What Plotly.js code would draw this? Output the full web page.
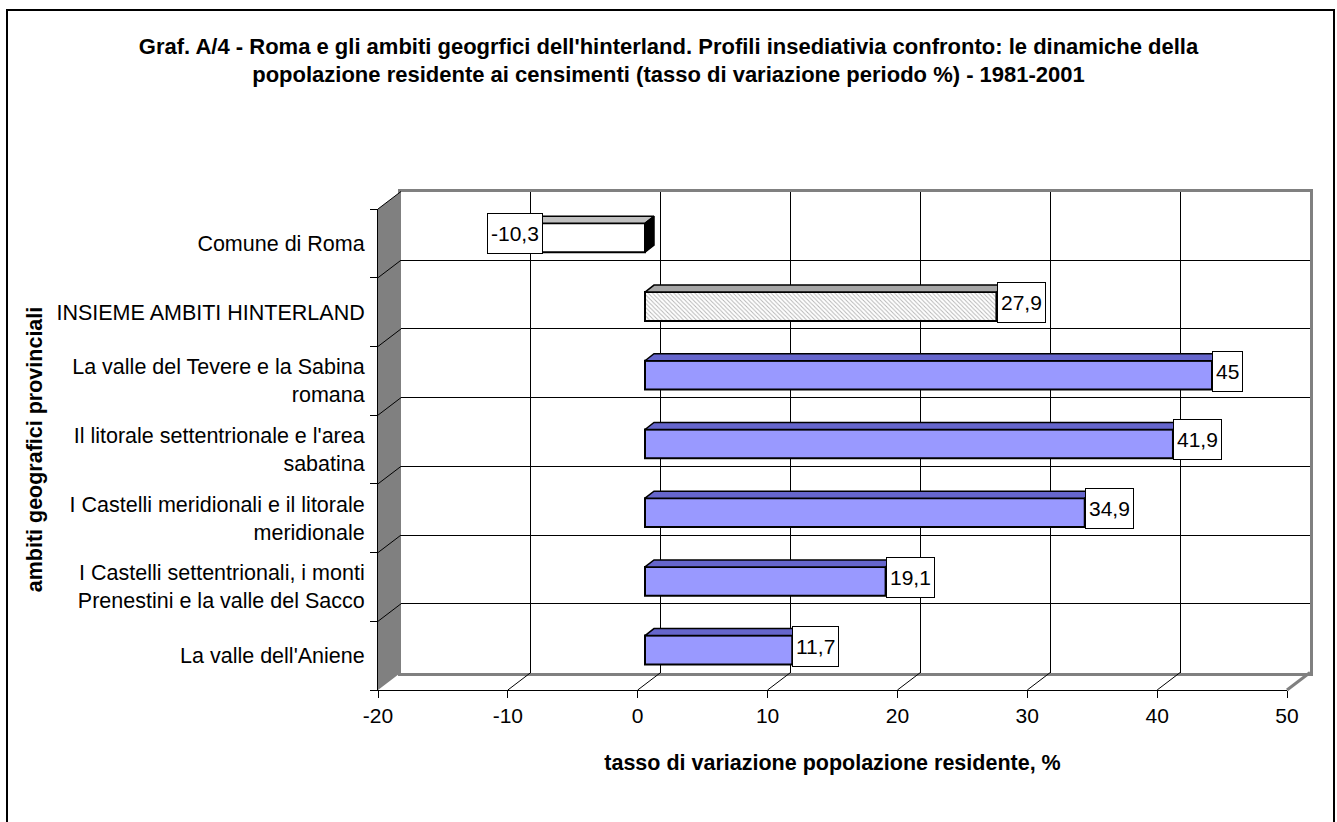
<!DOCTYPE html>
<html>
<head>
<meta charset="utf-8">
<script src="https://cdn.plot.ly/plotly-3.0.1.min.js"></script>
<style>
  html, body { margin: 0; padding: 0; background: #fff; }
  #chart { width: 1337px; height: 822px; }
</style>
</head>
<body>
<div id="chart"></div>
<script>
// Categories, top to bottom
const categories = [
  "Comune di Roma",
  "INSIEME AMBITI HINTERLAND",
  "La valle del Tevere e la Sabina<br>romana",
  "Il litorale settentrionale e l'area<br>sabatina",
  "I Castelli meridionali e il litorale<br>meridionale",
  "I Castelli settentrionali, i monti<br>Prenestini e la valle del Sacco",
  "La valle dell'Aniene"
];
// Tasso di variazione della popolazione residente 1981-2001, %
const values = [-10.3, 27.9, 45, 41.9, 34.9, 19.1, 11.7];
const xTicks = [-20, -10, 0, 10, 20, 30, 40, 50];
const xTickText = ["-20", "-10", "0", "10", "20", "30", "40", "50"];

const titleText = "Graf. A/4 - Roma e gli ambiti geogrfici dell'hinterland. Profili insediativia confronto: le dinamiche della<br>popolazione residente ai censimenti (tasso di variazione periodo %) - 1981-2001";
const xTitle = "tasso di variazione popolazione residente, %";
const yTitle = "ambiti geografici provinciali";

// ---- page geometry (pixels) ----
const W = 1337, H = 822;
const FONT = "Arial, 'Liberation Sans', sans-serif";
const front = { x0: 378, x1: 1287, y0: 209, y1: 690 };   // front plane of the 3D box
const depth = { dx: 23, dy: 17.5 };                       // offset of the back wall
const barPlane = { zero: 645, unit: 12.6, dy: 5.6 };      // plane of the bar front faces
const barTop = { dx: 9, dy: 7 };                          // depth of each bar
const xMin = xTicks[0], xMax = xTicks[xTicks.length - 1];
const nCat = categories.length;
const HATCHED = 1;                                        // the aggregate hinterland bar

const px = v => v / W;
const py = v => 1 - v / H;
const catIdx = categories.map((_, i) => i);
const frontX = v => front.x0 + (v - xMin) * (front.x1 - front.x0) / (xMax - xMin);
const catH = (front.y1 - front.y0) / nCat;
const boundaries = Array.from({ length: nCat + 1 }, (_, k) => k - 0.5);

// bar styling by role
const faceColor = i => i === 0 ? "#ffffff" : (i === HATCHED ? "#ececec" : "#9999ff");
const topColor = i => i === 0 ? "#c0c0c0" : (i === HATCHED ? "#a6a6a6" : "#6666cc");
const sideColor = i => i === 0 ? "#000000" : (i === HATCHED ? "#808080" : "#333399");

const barWidth = 0.42;
const dxu = barTop.dx / barPlane.unit;
const dyu = barTop.dy / catH;

const traces = [];
// plain front faces
traces.push({
  type: "bar", orientation: "h",
  x: values, y: catIdx, width: barWidth,
  xaxis: "x3", yaxis: "y3",
  marker: { color: catIdx.map(faceColor), line: { color: "#000", width: 2 } },
  hoverinfo: "skip", showlegend: false
});
// hatched face of the aggregate bar
traces.push({
  type: "bar", orientation: "h",
  x: [values[HATCHED]], y: [HATCHED], width: barWidth,
  xaxis: "x3", yaxis: "y3",
  marker: {
    color: "#ffffff", line: { color: "#000", width: 2 },
    pattern: { shape: "\\", fgcolor: "#b4b4b4", bgcolor: "#ffffff", size: 3, solidity: 0.3, fillmode: "replace" }
  },
  hoverinfo: "skip", showlegend: false
});

// top and end faces of each bar
values.forEach((v, i) => {
  const a = Math.min(0, v), b = Math.max(0, v);
  const top = i - barWidth / 2, bot = i + barWidth / 2;
  traces.push({
    type: "scatter", mode: "lines", xaxis: "x3", yaxis: "y3",
    x: [a, b, b + dxu, a + dxu, a],
    y: [top, top, top - dyu, top - dyu, top],
    fill: "toself", fillcolor: topColor(i),
    line: { color: "#000", width: 1.5 }, hoverinfo: "skip", showlegend: false
  });
  traces.push({
    type: "scatter", mode: "lines", xaxis: "x3", yaxis: "y3",
    x: [b, b + dxu, b + dxu, b, b],
    y: [top, top - dyu, bot - dyu, bot, top],
    fill: "toself", fillcolor: sideColor(i),
    line: { color: "#000", width: 1.5 }, hoverinfo: "skip", showlegend: false
  });
});

// invisible anchors so the front and back subplots are drawn
traces.push({ type: "scatter", x: [xMin], y: [0], xaxis: "x2", yaxis: "y2", mode: "markers", marker: { opacity: 0 }, hoverinfo: "skip", showlegend: false });
traces.push({ type: "scatter", x: [xMin], y: [0], xaxis: "x", yaxis: "y", mode: "markers", marker: { opacity: 0 }, hoverinfo: "skip", showlegend: false });

const fmt = v => String(v).replace(".", ",");
const annotations = values.map((v, i) => ({
  xref: "x3", yref: "y3", x: v, y: i,
  text: fmt(v), showarrow: false,
  xanchor: v < 0 ? "center" : "left", yanchor: "middle", yshift: 4,
  height: 33,
  font: { family: FONT, size: 21, color: "#000" },
  bgcolor: "#ffffff", bordercolor: "#000", borderwidth: 1, borderpad: 3
}));

// ---- 3D frame: side wall, floor lines, outer border ----
const shapes = [];
const path = pts => "M" + pts.map(p => px(p[0]) + "," + py(p[1])).join("L") + "Z";
shapes.push({
  type: "path", xref: "paper", yref: "paper", layer: "below",
  path: path([[front.x0, front.y0], [front.x0 + depth.dx, front.y0 - depth.dy],
              [front.x0 + depth.dx, front.y1 - depth.dy], [front.x0, front.y1]]),
  fillcolor: "#808080", line: { width: 0 }
});
for (let k = 0; k < nCat; k++) {
  const y = front.y0 + k * catH;
  shapes.push({ type: "line", xref: "paper", yref: "paper", layer: "above",
    x0: px(front.x0), y0: py(y), x1: px(front.x0 + depth.dx), y1: py(y - depth.dy),
    line: { color: "#000", width: 1 } });
}
xTicks.forEach((t, k) => {
  if (k === 0) return;
  const last = k === xTicks.length - 1;
  const x = frontX(t);
  shapes.push({ type: "line", xref: "paper", yref: "paper", layer: "above",
    x0: px(x), y0: py(front.y1), x1: px(x + depth.dx), y1: py(front.y1 - depth.dy),
    line: { color: last ? "#808080" : "#000", width: last ? 3 : 1 } });
});
shapes.push({ type: "rect", xref: "paper", yref: "paper", layer: "above",
  x0: px(7), x1: px(1334), y0: -0.05, y1: py(10),
  line: { color: "#000", width: 2 } });

const layout = {
  width: W, height: H,
  margin: { l: 0, r: 0, t: 0, b: 0 },
  paper_bgcolor: "#ffffff", plot_bgcolor: "rgba(0,0,0,0)",
  font: { family: FONT, size: 21, color: "#000" },
  showlegend: false,
  barmode: "overlay",
  title: {
    text: "<b>" + titleText + "</b>",
    font: { family: FONT, size: 22, color: "#000" },
    x: 0.5, xanchor: "center", xref: "paper",
    y: py(53.5), yanchor: "middle", yref: "container"
  },
  // front plane: value axis and category labels
  xaxis: {
    domain: [px(front.x0), px(front.x1)], range: [xMin, xMax], anchor: "y",
    tickmode: "array", tickvals: xTicks, ticktext: xTickText,
    ticks: "outside", ticklen: 7, tickcolor: "#000",
    showline: true, linecolor: "#000", linewidth: 1, showgrid: false, zeroline: false,
    tickfont: { family: FONT, size: 21 },
    title: { text: "<b>" + xTitle + "</b>", font: { family: FONT, size: 21.5 }, standoff: 28 }
  },
  yaxis: {
    domain: [py(front.y1), py(front.y0)], range: [nCat - 0.5, -0.5], anchor: "x",
    tickmode: "array", tickvals: catIdx, ticktext: categories, ticks: "",
    ticklabelstandoff: 8,
    minor: { tickmode: "array", tickvals: boundaries,
             ticks: "outside", ticklen: 7, tickcolor: "#000", showgrid: false },
    showline: true, linecolor: "#000", linewidth: 1, showgrid: false, zeroline: false,
    tickfont: { family: FONT, size: 21.5 },
    title: { text: "<b>" + yTitle + "</b>", font: { family: FONT, size: 21.5 }, standoff: 7 }
  },
  // category axis crossing at zero
  yaxis4: {
    overlaying: "y", anchor: "free", position: px(frontX(0)), range: [nCat - 0.5, -0.5],
    showline: true, linecolor: "#000", linewidth: 1, showgrid: false, zeroline: false,
    showticklabels: false, ticks: "",
    minor: { tickmode: "array", tickvals: boundaries,
             ticks: "outside", ticklen: 7, tickcolor: "#000", showgrid: false }
  },
  // back wall with gridlines
  xaxis2: {
    domain: [px(front.x0 + depth.dx), px(front.x1 + depth.dx)], range: [xMin, xMax], anchor: "y2",
    tickmode: "array", tickvals: xTicks.slice(1, -1), showticklabels: false, ticks: "",
    showgrid: true, gridcolor: "#000", gridwidth: 1, zeroline: false,
    showline: true, mirror: true, linecolor: "#808080", linewidth: 3
  },
  yaxis2: {
    domain: [py(front.y1 - depth.dy), py(front.y0 - depth.dy)], range: [nCat - 0.5, -0.5], anchor: "x2",
    tickmode: "array", tickvals: catIdx.slice(0, -1).map(i => i + 0.5), showticklabels: false, ticks: "",
    showgrid: true, gridcolor: "#000", gridwidth: 1, zeroline: false,
    showline: true, mirror: true, linecolor: "#808080", linewidth: 3
  },
  // plane of the bar front faces
  xaxis3: {
    domain: [px(barPlane.zero + xMin * barPlane.unit), px(barPlane.zero + xMax * barPlane.unit)],
    range: [xMin, xMax], anchor: "y3", visible: false, showgrid: false, zeroline: false
  },
  yaxis3: {
    domain: [py(front.y1 - barPlane.dy), py(front.y0 - barPlane.dy)], range: [nCat - 0.5, -0.5],
    anchor: "x3", visible: false, showgrid: false, zeroline: false
  },
  shapes: shapes,
  annotations: annotations
};

Plotly.newPlot("chart", traces, layout, { displayModeBar: false, staticPlot: true });
</script>
</body>
</html>
